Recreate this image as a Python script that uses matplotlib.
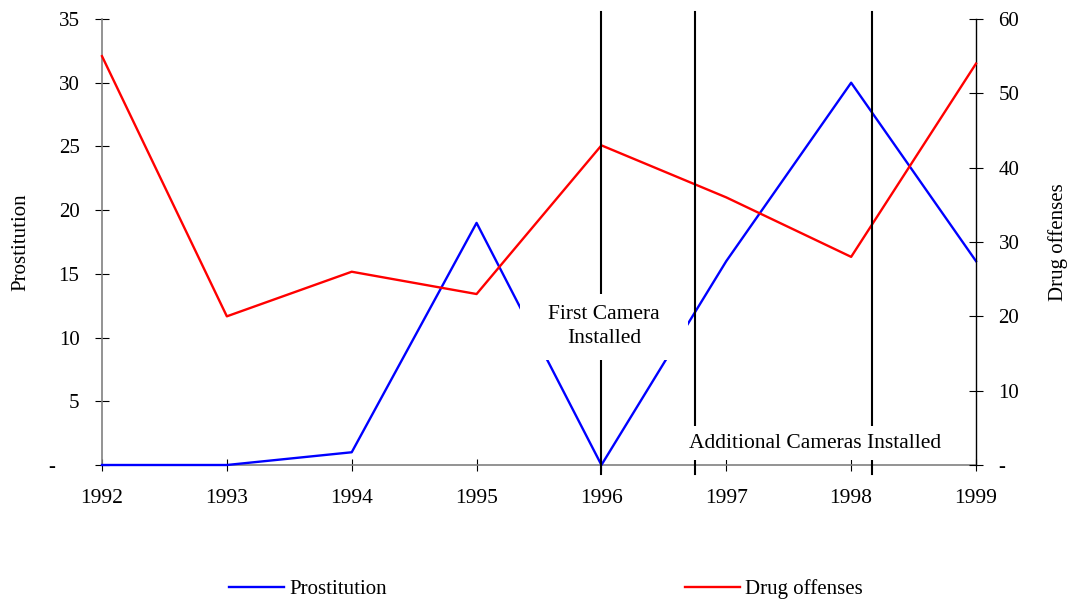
import matplotlib
matplotlib.use('Agg')
import matplotlib.pyplot as plt
import matplotlib.transforms as mtransforms
from matplotlib.ticker import FixedLocator, FuncFormatter

# ---- data ----
years = [1992, 1993, 1994, 1995, 1996, 1997, 1998, 1999]
prostitution = [0, 0, 1, 19, 0, 16, 30, 16]
drug_offenses = [55, 20, 26, 23, 43, 36, 28, 54]
camera_dates = [1996, 1996.75, 1998.17]
left_ticks = [0, 5, 10, 15, 20, 25, 30, 35]
right_ticks = [0, 10, 20, 30, 40, 50, 60]
first_label = "First Camera\nInstalled"
additional_label = "Additional Cameras Installed"

plt.rcParams['font.family'] = ['Liberation Serif', 'DejaVu Serif']

W, H = 1069, 600
fig = plt.figure(figsize=(W / 100, H / 100), dpi=100)
ax = fig.add_axes([102 / W, 135 / H, 874 / W, 446 / H])
ax2 = ax.twinx()

fmt = FuncFormatter(lambda v, p: '-' if v == 0 else f'{v:g}')

# left axis
ax.set_xlim(years[0], years[-1])
ax.set_ylim(left_ticks[0], left_ticks[-1])
ax.yaxis.set_major_locator(FixedLocator(left_ticks))
ax.yaxis.set_major_formatter(fmt)
ax.xaxis.set_major_locator(FixedLocator(years))
ax.set_xticklabels([str(y) for y in years])

# right axis
ax2.set_ylim(right_ticks[0], right_ticks[-1])
ax2.yaxis.set_major_locator(FixedLocator(right_ticks))
ax2.yaxis.set_major_formatter(fmt)

for a in (ax, ax2):
    a.spines['top'].set_visible(False)
ax.spines['right'].set_visible(False)
ax.spines['left'].set_color('#808080')
ax.spines['left'].set_linewidth(1.2)
ax.spines['bottom'].set_color('#808080')
ax.spines['bottom'].set_linewidth(1.2)
ax2.spines['left'].set_visible(False)
ax2.spines['bottom'].set_visible(False)
ax2.spines['right'].set_color('black')
ax2.spines['right'].set_linewidth(1.0)

ax.tick_params(axis='y', direction='inout', length=9.4, width=0.8, color='black',
               pad=11.5, labelsize=15, labelcolor='black')
ax.tick_params(axis='x', direction='inout', length=8.6, width=0.8, color='black',
               pad=13, labelsize=15.5, labelcolor='black')
ax2.tick_params(axis='y', direction='inout', length=9.4, width=0.8, color='black',
                pad=11.5, labelsize=15, labelcolor='black')

# shift the left "-" label as in accounting format
lbl0 = ax.get_yticklabels()[0]
lbl0.set_transform(lbl0.get_transform() +
                   mtransforms.ScaledTranslation(-0.243, 0, fig.dpi_scale_trans))

# series
l1, = ax.plot(years, prostitution, color='#0000FF', lw=1.7, clip_on=False,
              zorder=3, label='Prostitution')
l2, = ax2.plot(years, drug_offenses, color='#FF0000', lw=1.7, clip_on=False,
               zorder=3, label='Drug offenses')

# camera installation lines
for d in camera_dates:
    ax2.axvline(d, ymin=-0.0202, ymax=1.0157, color='black', lw=1.5,
                clip_on=False, zorder=4)

trans = mtransforms.blended_transform_factory(ax2.transData, ax2.transAxes)
ax2.text(camera_dates[0] + 0.02, 0.3105, first_label, transform=trans, ha='center',
         va='center', fontsize=15.5, linespacing=1.4, zorder=6,
         bbox=dict(boxstyle='square,pad=1.3', fc='white', ec='none',
                   mutation_aspect=0.4))
ax2.text(1997.71, 0.049, additional_label, transform=trans, ha='center',
         va='center', fontsize=15.5, zorder=6,
         bbox=dict(boxstyle='square,pad=0.35', fc='white', ec='none'))

# axis labels
ax.set_ylabel('Prostitution', fontsize=15)
ax.yaxis.set_label_coords(-0.0824, 0.5)
ax2.set_ylabel('Drug offenses', fontsize=15)
ax2.yaxis.set_label_coords(1.083, 0.5)

# legend
fig.legend(handles=[l1, l2], loc='center', bbox_to_anchor=(546 / W, 1 - 589 / H),
           ncol=2, frameon=False, fontsize=15, handlelength=2.64,
           handletextpad=0.24, columnspacing=14.3)

fig.savefig('out.png', dpi=100, facecolor='white')
